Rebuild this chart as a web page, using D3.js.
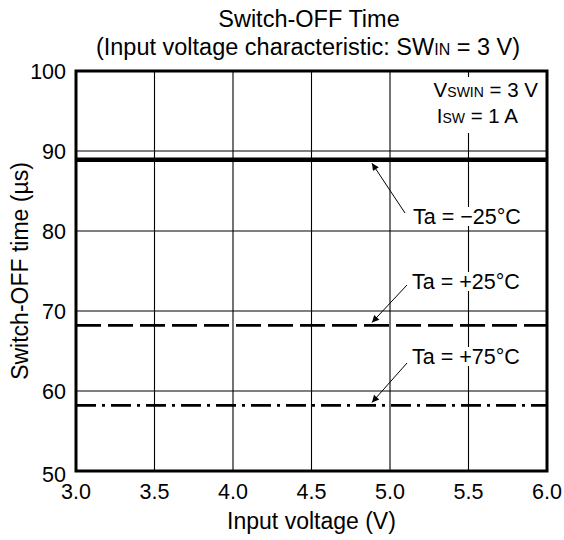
<!DOCTYPE html>
<html><head><meta charset="utf-8">
<script src="https://cdn.jsdelivr.net/npm/d3@7"></script>
<style>body{margin:0;background:#fff}svg{font-family:"Liberation Sans",Arial,sans-serif}</style>
</head><body>
<svg id="c" width="564" height="540"></svg>
<script>
const xTicks = [3.0, 3.5, 4.0, 4.5, 5.0, 5.5, 6.0];
const yTicks = [50, 60, 70, 80, 90, 100];
const seriesNames = ["Ta = \u221225\u00b0C", "Ta = +25\u00b0C", "Ta = +75\u00b0C"];
const seriesX = [3.0, 6.0];
const seriesValues = [[88.9, 88.9], [68.2, 68.2], [58.2, 58.2]];

const svg = d3.select("#c");
const m = {l:76, t:71, r:547, b:471};
const x = d3.scaleLinear().domain([3,6]).range([m.l, m.r]);
const y = d3.scaleLinear().domain([50,100]).range([m.b, m.t]);

// grid
svg.append("g").selectAll("line").data(xTicks.slice(1,-1)).join("line")
  .attr("x1",d=>x(d)).attr("x2",d=>x(d)).attr("y1",m.t).attr("y2",m.b)
  .attr("stroke","#000").attr("stroke-width",1.1);
svg.append("g").selectAll("line").data(yTicks.slice(1,-1)).join("line")
  .attr("y1",d=>y(d)).attr("y2",d=>y(d)).attr("x1",m.l).attr("x2",m.r)
  .attr("stroke","#000").attr("stroke-width",1.1);

const styles = [
  {w:4.5, dash:null},
  {w:2.7, dash:"25,7"},
  {w:2.7, dash:"20,6,3,6"}
];
const line = d3.line().x(d=>x(d[0])).y(d=>y(d[1]));
seriesValues.forEach((vals,i)=>{
  svg.append("path").datum(seriesX.map((xv,j)=>[xv,vals[j]]))
    .attr("d",line).attr("fill","none").attr("stroke","#000")
    .attr("stroke-width",styles[i].w)
    .attr("stroke-dasharray",styles[i].dash);
});

// frame
svg.append("rect").attr("x",m.l).attr("y",m.t).attr("width",m.r-m.l).attr("height",m.b-m.t)
  .attr("fill","none").attr("stroke","#000").attr("stroke-width",3);

// arrow marker
svg.append("defs").append("marker").attr("id","ah").attr("viewBox","0 0 10 10").attr("refX",10).attr("refY",5)
  .attr("markerWidth",11).attr("markerHeight",7).attr("markerUnits","userSpaceOnUse").attr("orient","auto")
  .append("path").attr("d","M0,0L10,5L0,10z").attr("fill","#000");

const labels = [
  {tx:413, ty:224, from:[405,213], to:[372, y(seriesValues[0][0])+3.5]},
  {tx:412, ty:289, from:[407,285], to:[372, y(seriesValues[1][0])-3]},
  {tx:412, ty:364, from:[407,363], to:[372, y(seriesValues[2][0])-3]}
];
seriesNames.forEach((n,i)=>{
  const L = labels[i];
  svg.append("rect").attr("x",L.tx-2).attr("y",L.ty-17).attr("width",108).attr("height",19).attr("fill","#fff");
  svg.append("text").attr("x",L.tx).attr("y",L.ty).attr("font-size",21.5).text(n);
  svg.append("line").attr("x1",L.from[0]).attr("y1",L.from[1]).attr("x2",L.to[0]).attr("y2",L.to[1])
    .attr("stroke","#000").attr("stroke-width",1).attr("marker-end","url(#ah)");
});

// condition text
const cond = svg.append("g");
cond.append("rect").attr("x",428).attr("y",77).attr("width",112).attr("height",56).attr("fill","#fff");
const t1 = cond.append("text").attr("x",538).attr("y",97).attr("text-anchor","end").attr("font-size",20.5);
t1.append("tspan").text("V");
t1.append("tspan").attr("font-size",14).text("SWIN");
t1.append("tspan").text(" = 3 V");
const t2 = cond.append("text").attr("x",518).attr("y",123).attr("text-anchor","end").attr("font-size",20.5);
t2.append("tspan").text("I");
t2.append("tspan").attr("font-size",14).text("SW");
t2.append("tspan").text(" = 1 A");

// tick labels
svg.append("g").selectAll("text").data(xTicks).join("text")
  .attr("x",d=>x(d)).attr("y",499).attr("text-anchor","middle").attr("font-size",21.5)
  .text(d=>d3.format(".1f")(d));
svg.append("g").selectAll("text").data(yTicks).join("text")
  .attr("x",66).attr("y",d=>d===50? y(d)+11 : y(d)+8).attr("text-anchor","end").attr("font-size",21.5)
  .text(d=>d);

// axis titles
svg.append("text").attr("x",(m.l+m.r)/2).attr("y",529).attr("text-anchor","middle").attr("font-size",23)
  .text("Input voltage (V)");
svg.append("text").attr("transform",`translate(28,${(m.t+m.b)/2}) rotate(-90)`).attr("text-anchor","middle")
  .attr("font-size",23).text("Switch-OFF time (\u00b5s)");

// title
svg.append("text").attr("x",309).attr("y",27).attr("text-anchor","middle").attr("font-size",23.5)
  .text("Switch-OFF Time");
const tt = svg.append("text").attr("x",308).attr("y",55).attr("text-anchor","middle").attr("font-size",23.5);
tt.append("tspan").text("(Input voltage characteristic: SW");
tt.append("tspan").attr("font-size",16).text("IN");
tt.append("tspan").text(" = 3 V)");
</script>
</body></html>
